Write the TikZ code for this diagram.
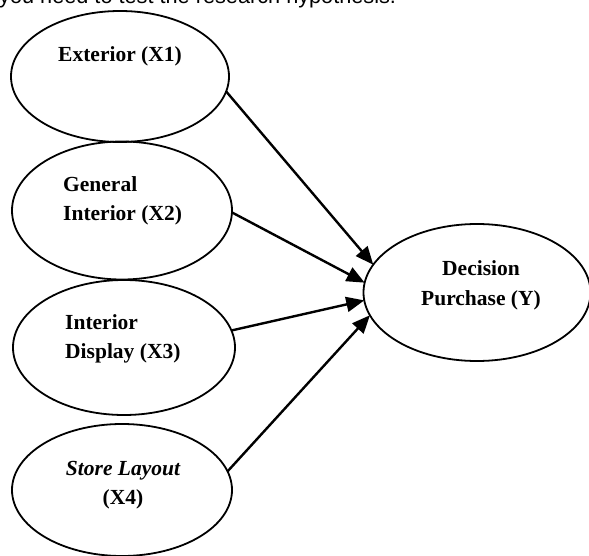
\documentclass[tikz,border=0pt]{standalone}
\usepackage{fontspec}
\setmainfont{Liberation Serif}
\newfontfamily\headfont{Liberation Sans}
\usetikzlibrary{shapes.geometric,arrows.meta,calc,positioning}

\begin{document}
\begin{tikzpicture}[x=1pt, y=-1pt,
    var/.style={draw, ellipse, line width=1.8pt, inner sep=0pt, outer sep=0pt},
    lbl/.style={font=\fontsize{21.5}{29}\selectfont\bfseries, inner sep=0pt},
    arr/.style={-{Triangle[length=18pt, width=15pt]}, line width=2.4pt}]

    \useasboundingbox (0,0) rectangle (589,556);
    \clip (0,0) rectangle (589,556);

    \node[anchor=base west, inner sep=0pt, font=\headfont\fontsize{21.7}{26}\selectfont] (head) at (-1,4) {you need to test the research hypothesis.};

    \node[var, minimum width=218pt, minimum height=131pt] (ext)  at (120,76.5)  {};
    \node[var, minimum width=220pt, minimum height=138pt] (gen)  at (122,210.5) {};
    \node[var, minimum width=222pt, minimum height=135pt] (disp) at (124,347.5) {};
    \node[var, minimum width=220pt, minimum height=132pt] (lay)  at (122,490)   {};
    \node[var, minimum width=227pt, minimum height=137pt] (dec)  at (477,292.5) {};

    \node[lbl, anchor=base]                    (extT)  at ($(ext) + (0,-14.5)$)   {Exterior (X1)};
    \node[lbl, anchor=base west, align=left]   (genT)  at ($(gen) + (-59,10.2)$)  {General\\Interior (X2)};
    \node[lbl, anchor=base west, align=left]   (dispT) at ($(disp) + (-59,10.5)$) {Interior\\Display (X3)};
    \node[lbl, anchor=base, align=center]      (layT)  at ($(lay) + (1,14)$)      {\itshape Store Layout\\(X4)};
    \node[lbl, anchor=base, align=center]      (decT)  at ($(dec) + (4,12.5)$)    {Decision\\Purchase (Y)};

    \draw[arr] (ext.-8)  -- (dec.165);
    \draw[arr] (gen.-1)  -- (dec.175);
    \draw[arr] (disp.9)  -- (dec.184);
    \draw[arr] (lay.10)  -- (dec.192);

\end{tikzpicture}
\end{document}
